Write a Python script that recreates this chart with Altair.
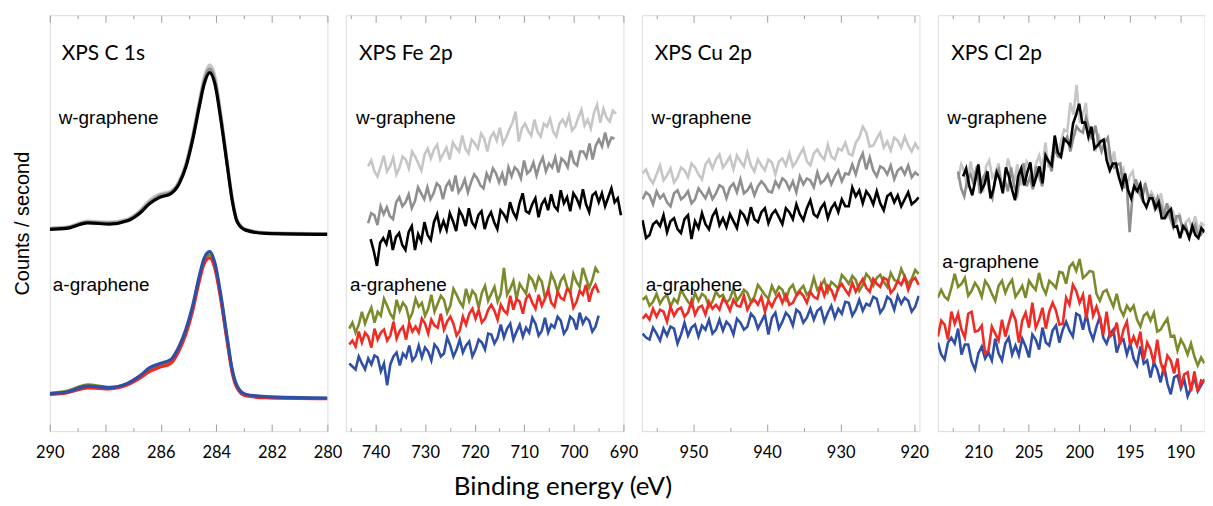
import altair as alt
import numpy as np
import pandas as pd

# ---------------- data ----------------
# C 1s (smooth spectra), energy grid in eV
c1s_x = [290, 289.4, 288.63, 287.85, 287.2, 286.77, 286.4, 286.06, 285.64, 285.34, 285.1,
         284.86, 284.62, 284.44, 284.24, 284.05, 283.85, 283.6, 283.43, 283.25, 282.95, 282.23, 280]
c1s_w_light = [204, 205, 211, 210, 213, 221, 232, 238, 241, 251, 268, 296, 330, 355, 368, 356,
               320, 268, 234, 212, 203, 199.5, 198.5]
c1s_w_gray = [203.5, 204.5, 210, 209, 212, 220, 230, 236.5, 240, 250, 267, 294, 328, 352, 364,
              352, 318, 267, 233, 211, 202.5, 199, 198]
c1s_w_black = [202.7, 203.7, 209.3, 208, 211.3, 218.7, 228.7, 234.7, 238.7, 248.7, 265.3, 292,
               325.3, 348.7, 360.3, 348.7, 315.3, 265.3, 232, 210.3, 202, 198.7, 197.7]
c1s_a_green = [38, 40, 46.5, 44, 48, 54.5, 62.5, 66, 70, 83.5, 100, 123, 153, 171, 177, 166,
               136, 90, 60.5, 44, 36, 34, 33]
c1s_a_red = [37, 38.5, 43.5, 42.5, 46.5, 53, 60, 64, 68, 81, 97, 120, 150, 168, 174, 163, 134,
             88, 59, 43, 35.5, 33.5, 32.5]
c1s_a_blue = [37.7, 39.3, 45.3, 43.7, 48, 55.3, 63.7, 67.7, 72, 85.3, 102, 125.3, 155.3, 173.7,
              180.3, 168.7, 138.7, 92, 62, 45.3, 37, 34.7, 33.3]

# Fe 2p (noisy spectra on uniform energy grids)
fe_w_light = [266, 272, 261, 256, 266, 277, 261, 266, 275, 258, 265, 276, 273, 264, 281, 276,
              269, 262, 278, 284, 274, 283, 288, 273, 279, 285, 273, 290, 285, 281, 297, 284,
              279, 293, 289, 284, 299, 294, 281, 295, 300, 292, 305, 289, 295, 303, 310, 321,
              291, 304, 309, 302, 297, 313, 301, 296, 309, 306, 314, 301, 296, 309, 313, 307,
              317, 302, 306, 315, 323, 307, 313, 304, 320, 328, 310, 324, 315, 311, 322, 319]
fe_w_gray = [209, 219, 217, 207, 226, 218, 225, 216, 213, 230, 235, 226, 230, 238, 224, 231,
             245, 239, 233, 245, 233, 239, 249, 246, 233, 246, 251, 241, 257, 240, 245, 253,
             240, 250, 258, 254, 247, 244, 259, 252, 264, 259, 250, 259, 247, 265, 256, 265,
             262, 254, 272, 259, 262, 270, 257, 268, 275, 261, 269, 265, 275, 260, 274, 271,
             265, 282, 270, 267, 281, 281, 275, 289, 273, 287, 293, 286, 300, 287, 295, 294]
fe_w_black = [193, 181, 166, 189, 194, 188, 202, 182, 195, 199, 187, 182, 200, 206, 182, 198,
              191, 210, 197, 192, 210, 218, 202, 211, 202, 219, 211, 201, 222, 216, 206, 224,
              210, 205, 217, 221, 203, 214, 220, 210, 203, 222, 218, 212, 230, 220, 214, 229,
              239, 221, 219, 228, 234, 215, 228, 233, 222, 238, 226, 222, 242, 229, 235, 221,
              239, 234, 226, 243, 228, 220, 237, 240, 230, 239, 226, 235, 244, 230, 234, 217]
fe_a_green = [103, 109, 99, 107, 120, 108, 117, 124, 109, 120, 116, 133, 126, 118, 113, 132,
              121, 129, 125, 112, 119, 133, 125, 129, 116, 123, 137, 120, 128, 136, 132, 119,
              126, 143, 137, 130, 125, 143, 131, 141, 137, 124, 139, 146, 131, 138, 145, 130,
              138, 164, 137, 143, 151, 133, 148, 143, 138, 156, 152, 143, 155, 150, 134, 141,
              158, 151, 140, 151, 156, 145, 139, 158, 150, 145, 164, 154, 144, 152, 164, 159]
fe_a_red = [87, 91, 85, 100, 89, 99, 95, 84, 103, 92, 99, 102, 91, 96, 110, 93, 101, 105, 92,
            109, 100, 105, 99, 113, 108, 98, 112, 106, 104, 118, 102, 110, 115, 108, 96, 101,
            115, 107, 118, 123, 113, 122, 109, 113, 122, 127, 121, 112, 127, 121, 118, 136, 122,
            133, 130, 118, 133, 137, 129, 123, 137, 126, 133, 142, 129, 125, 140, 134, 132, 143,
            140, 124, 130, 141, 137, 147, 130, 142, 147, 139]
fe_a_blue = [68, 65, 62, 75, 68, 62, 73, 67, 76, 74, 60, 68, 46, 67, 75, 79, 66, 78, 74, 86,
             71, 75, 86, 74, 84, 80, 71, 87, 83, 75, 78, 94, 86, 75, 82, 92, 79, 86, 90, 75,
             82, 92, 89, 82, 98, 97, 88, 94, 107, 94, 103, 108, 92, 100, 107, 95, 104, 99, 114,
             108, 96, 101, 114, 99, 107, 104, 115, 111, 98, 103, 115, 112, 102, 119, 108, 114,
             111, 100, 105, 116]

# Cu 2p
cu_w_light = [259, 263, 254, 249, 258, 267, 252, 257, 264, 250, 255, 265, 262, 255, 269, 265,
              258, 253, 268, 273, 264, 273, 278, 265, 270, 276, 263, 277, 271, 266, 280, 267,
              261, 273, 267, 262, 273, 270, 258, 271, 274, 267, 279, 266, 271, 278, 284, 271,
              267, 279, 283, 277, 273, 288, 276, 273, 284, 282, 290, 279, 277, 290, 295, 306,
              300, 286, 287, 294, 300, 285, 291, 282, 295, 292, 285, 296, 287, 281, 289, 283]
cu_w_gray = [233, 240, 237, 228, 241, 234, 238, 230, 226, 239, 242, 233, 236, 241, 229, 233,
             244, 239, 234, 243, 233, 239, 247, 245, 234, 245, 249, 240, 253, 239, 242, 248,
             237, 246, 251, 247, 241, 240, 251, 245, 254, 251, 243, 251, 240, 256, 248, 254,
             252, 245, 260, 249, 252, 258, 248, 256, 262, 251, 259, 258, 268, 258, 271, 279,
             263, 275, 262, 256, 266, 264, 258, 267, 253, 262, 265, 258, 267, 255, 260, 257]
cu_w_black = [212, 194, 197, 208, 211, 206, 217, 200, 211, 214, 203, 199, 213, 217, 193, 211,
              204, 219, 208, 203, 216, 222, 207, 214, 205, 218, 211, 204, 221, 217, 209, 225,
              213, 210, 220, 224, 209, 218, 222, 215, 208, 224, 220, 213, 228, 218, 212, 224,
              232, 218, 215, 224, 229, 214, 224, 229, 220, 233, 226, 226, 245, 236, 242, 229,
              241, 236, 228, 241, 229, 222, 236, 239, 230, 237, 226, 233, 240, 228, 231, 235]
cu_a_green = [132, 135, 126, 130, 138, 128, 134, 137, 125, 133, 129, 142, 136, 130, 126, 139,
              131, 138, 135, 125, 130, 140, 135, 137, 129, 133, 143, 131, 136, 142, 139, 130,
              135, 147, 142, 137, 133, 146, 138, 145, 142, 132, 143, 147, 137, 142, 146, 137,
              141, 154, 142, 146, 152, 140, 150, 147, 143, 157, 153, 148, 156, 152, 141, 147,
              158, 154, 146, 154, 157, 150, 145, 159, 152, 150, 163, 155, 148, 153, 162, 158]
cu_a_red = [113, 117, 112, 123, 115, 122, 120, 110, 125, 116, 122, 124, 115, 119, 131, 117,
            124, 126, 117, 130, 123, 127, 122, 133, 129, 121, 132, 126, 125, 136, 122, 129,
            132, 127, 135, 120, 131, 125, 133, 138, 129, 137, 127, 129, 136, 140, 136, 129,
            140, 135, 133, 147, 136, 146, 142, 133, 144, 148, 142, 137, 149, 140, 147, 153,
            144, 140, 153, 148, 145, 154, 152, 139, 143, 151, 147, 155, 142, 151, 154, 147]
cu_a_blue = [98, 94, 92, 104, 98, 91, 103, 96, 105, 103, 88, 97, 109, 96, 104, 107, 95, 106,
             102, 112, 98, 102, 112, 101, 110, 106, 97, 113, 109, 102, 105, 118, 114, 103, 110,
             117, 97, 114, 119, 103, 110, 119, 115, 106, 122, 119, 109, 114, 123, 112, 121, 124,
             110, 119, 126, 114, 123, 118, 130, 129, 116, 122, 132, 121, 128, 126, 135, 133, 119,
             124, 135, 132, 122, 136, 128, 134, 131, 120, 125, 136]

# Cl 2p
cl_w_light = [253, 268, 261, 244, 271, 256, 264, 248, 240, 266, 272, 255, 260, 269, 245, 253,
              274, 261, 250, 268, 247, 256, 271, 266, 246, 269, 277, 263, 290, 265, 276, 289,
              276, 291, 303, 301, 330, 318, 348, 310, 318, 330, 293, 299, 281, 299, 283, 289,
              280, 266, 281, 259, 259, 264, 244, 256, 261, 242, 248, 240, 248, 230, 240, 234,
              224, 239, 223, 216, 225, 220, 210, 219, 199, 210, 213, 204, 216, 202, 209, 206]
cl_w_gray = [261, 244, 236, 253, 258, 248, 266, 239, 255, 260, 242, 234, 256, 263, 247, 252,
             241, 265, 246, 238, 259, 269, 246, 255, 243, 266, 256, 246, 276, 271, 261, 285,
             276, 275, 290, 296, 281, 295, 306, 302, 300, 315, 305, 293, 307, 291, 281, 290,
             295, 272, 265, 268, 269, 244, 253, 200, 240, 253, 240, 233, 249, 236, 237, 224,
             235, 227, 217, 229, 214, 205, 216, 216, 203, 207, 195, 201, 207, 195, 198, 203]
cl_w_black = [256, 264, 247, 237, 252, 268, 242, 248, 261, 234, 244, 260, 253, 239, 265, 256,
              243, 232, 256, 264, 247, 260, 270, 246, 256, 266, 249, 277, 271, 267, 297, 280,
              276, 294, 291, 287, 309, 318, 329, 310, 310, 296, 306, 284, 287, 291, 293, 272,
              262, 269, 269, 255, 245, 259, 242, 234, 246, 241, 248, 231, 225, 234, 234, 224,
              230, 214, 214, 220, 223, 205, 206, 194, 206, 202, 194, 206, 197, 194, 204, 200]
cl_a_green = [134, 142, 135, 132, 144, 158, 145, 148, 154, 136, 141, 149, 144, 135, 151, 146,
              138, 131, 146, 151, 139, 147, 152, 135, 140, 146, 134, 151, 146, 142, 159, 145,
              138, 151, 148, 144, 160, 159, 148, 165, 169, 161, 173, 154, 157, 161, 160, 138,
              131, 140, 142, 133, 125, 138, 123, 116, 126, 121, 126, 112, 105, 116, 119, 111,
              119, 100, 102, 108, 113, 95, 96, 81, 92, 86, 77, 88, 75, 66, 74, 68]
cl_a_red = [95, 111, 107, 92, 120, 108, 118, 102, 94, 118, 120, 100, 101, 106, 78, 81, 105, 98,
            91, 112, 95, 108, 120, 112, 89, 111, 119, 104, 129, 104, 112, 124, 103, 120, 129,
            121, 107, 108, 134, 127, 147, 141, 129, 137, 113, 137, 116, 125, 114, 97, 120, 95,
            98, 109, 87, 102, 110, 86, 95, 86, 100, 72, 89, 82, 68, 92, 69, 59, 76, 71, 58, 73,
            44, 57, 59, 40, 60, 40, 51, 49]
cl_a_blue = [89, 77, 72, 89, 94, 88, 103, 77, 87, 87, 70, 62, 78, 85, 73, 79, 71, 93, 78, 71,
             88, 94, 77, 86, 76, 93, 85, 74, 97, 92, 82, 104, 89, 86, 101, 106, 89, 102, 110, 101,
             95, 118, 116, 102, 118, 101, 92, 105, 115, 94, 88, 98, 102, 79, 90, 92, 77, 88, 73,
             66, 85, 68, 71, 54, 69, 62, 49, 66, 48, 37, 54, 56, 43, 52, 35, 43, 54, 40, 46, 52]

# tick values per panel
c1s_ticks = [290, 289, 288, 287, 286, 285, 284, 283, 282, 281, 280]
fe_ticks = [745, 740, 735, 730, 725, 720, 715, 710, 705, 700, 695, 690]
cu_ticks = [955, 950, 945, 940, 935, 930, 925, 920]
cl_ticks = [212.5, 210, 207.5, 205, 202.5, 200, 197.5, 195, 192.5, 190]

panel_titles = ["XPS C 1s", "XPS Fe 2p", "XPS Cu 2p", "XPS Cl 2p"]
sample_labels = ["w-graphene", "a-graphene"]

# ---------------- style ----------------
LIGHT = "#c6c6c6"
GRAY = "#8f8f8f"
BLACK = "#000000"
OLIVE = "#7d8a2c"
RED = "#ef2b23"
BLUE = "#2f4ea6"
FRAME = "#9c9c9c"
H = 418
SW = 2.6


def uniform(start, end, values):
    return pd.DataFrame({"eV": np.linspace(start, end, len(values)), "counts": values})


def listed(xs, values):
    return pd.DataFrame({"eV": xs, "counts": values})


def panel(series, domain, ticks, mod, width, title, title_pos, w_pos, a_pos, interp, ytitle=None):
    xs = alt.Scale(domain=domain, reverse=True, nice=False, zero=False)
    ys = alt.Scale(domain=[0, H], nice=False, zero=False)
    test = f"abs(datum.value / {mod} - round(datum.value / {mod})) < 0.000001"
    common = dict(values=ticks, offset=-7, tickSize=7, domain=False, grid=False,
                  tickColor=FRAME, tickWidth=1,
                  tickDash={"condition": {"test": test, "value": [7, 0]}, "value": [0, 3.5, 3.5, 0]},
                  title=None)
    bottom = alt.Axis(orient="bottom", labelExpr=f"({test}) ? datum.label : ''",
                      labelFont="Lato", labelFontSize=16.5, labelColor="#000",
                      labelPadding=14, labelOverlap=False, labelFlush=False, **common)
    top = alt.Axis(orient="top", labels=False, **common)
    if ytitle:
        yaxis = alt.Axis(title=ytitle, labels=False, ticks=False, domain=False, grid=False,
                         titleFont="Liberation Sans", titleFontSize=20, titleFontWeight="normal",
                         titleColor="#000", titlePadding=17)
    else:
        yaxis = None
    layers = []
    for i, (df, color, sw) in enumerate(series):
        layers.append(
            alt.Chart(df).mark_line(color=color, strokeWidth=sw, clip=True, interpolate=interp).encode(
                x=alt.X("eV:Q", scale=xs, axis=bottom if i == 0 else None),
                y=alt.Y("counts:Q", scale=ys, axis=yaxis),
            )
        )
    tdf = pd.DataFrame({"eV": [title_pos[0]], "counts": [title_pos[1]], "label": [title]})
    layers.append(
        alt.Chart(tdf).mark_text(align="left", baseline="middle", font="Lato", fontSize=21,
                                 color="#000").encode(
            x=alt.X("eV:Q", scale=xs, axis=top),
            y=alt.Y("counts:Q", scale=ys, axis=yaxis),
            text="label:N",
        )
    )
    sdf = pd.DataFrame({"eV": [w_pos[0], a_pos[0]], "counts": [w_pos[1], a_pos[1]],
                        "label": sample_labels})
    layers.append(
        alt.Chart(sdf).mark_text(align="left", baseline="middle", font="Liberation Sans",
                                 fontSize=19, color="#000").encode(
            x=alt.X("eV:Q", scale=xs, axis=None),
            y=alt.Y("counts:Q", scale=ys, axis=yaxis),
            text="label:N",
        )
    )
    return alt.layer(*layers).resolve_axis(x="independent").properties(width=width, height=H)


p1 = panel(
    [(listed(c1s_x, c1s_w_light), LIGHT, 3.4), (listed(c1s_x, c1s_w_gray), GRAY, 3.2),
     (listed(c1s_x, c1s_w_black), BLACK, 3.2), (listed(c1s_x, c1s_a_green), OLIVE, 3.2),
     (listed(c1s_x, c1s_a_red), RED, 3.2), (listed(c1s_x, c1s_a_blue), BLUE, 3.2)],
    [280, 290], c1s_ticks, 2, 279, panel_titles[0], (289.57, 379), (289.68, 315), (289.89, 147),
    "monotone", ytitle="Counts / second")

p2 = panel(
    [(uniform(741.5, 691.5, fe_w_light), LIGHT, SW), (uniform(741.5, 691.8, fe_w_gray), GRAY, SW),
     (uniform(741.0, 690.5, fe_w_black), BLACK, SW), (uniform(745.3, 695.0, fe_a_green), OLIVE, SW),
     (uniform(745.3, 695.0, fe_a_blue), BLUE, SW), (uniform(745.3, 695.0, fe_a_red), RED, SW)],
    [690, 746], fe_ticks, 10, 279, panel_titles[1], (743.35, 379), (743.95, 315), (745.15, 147),
    "linear")

p3 = panel(
    [(uniform(956.9, 919.4, cu_w_light), LIGHT, SW), (uniform(956.9, 919.4, cu_w_gray), GRAY, SW),
     (uniform(956.9, 919.4, cu_w_black), BLACK, SW), (uniform(956.9, 919.4, cu_a_green), OLIVE, SW),
     (uniform(956.9, 919.4, cu_a_blue), BLUE, SW), (uniform(956.9, 919.4, cu_a_red), RED, SW)],
    [919.3, 957], cu_ticks, 10, 279, panel_titles[2], (955.26, 379), (955.67, 315), (956.48, 147),
    "linear")

p4 = panel(
    [(uniform(212.0, 187.6, cl_w_light), LIGHT, SW), (uniform(212.0, 187.6, cl_w_gray), GRAY, SW),
     (uniform(211.5, 187.6, cl_w_black), BLACK, SW), (uniform(214.0, 187.6, cl_a_green), OLIVE, SW),
     (uniform(214.0, 187.6, cl_a_blue), BLUE, SW), (uniform(214.0, 187.6, cl_a_red), RED, SW)],
    [187.6, 214], cl_ticks, 5, 268, panel_titles[3], (212.67, 379), (213.06, 315), (213.56, 170),
    "linear")

chart = alt.hconcat(p1, p2, p3, p4, spacing=18.5, bounds="flush").properties(
    title=alt.TitleParams("Binding energy (eV)", orient="bottom", anchor="middle", font="Lato",
                          fontSize=26, fontWeight="normal", color="#000", dx=-46, offset=12),
    padding={"left": 4, "top": 5, "right": 0, "bottom": 0},
).configure_view(stroke=FRAME, strokeWidth=1.2).configure(background="white")

chart.save("out.html", embed_options={"renderer": "svg", "actions": False})
